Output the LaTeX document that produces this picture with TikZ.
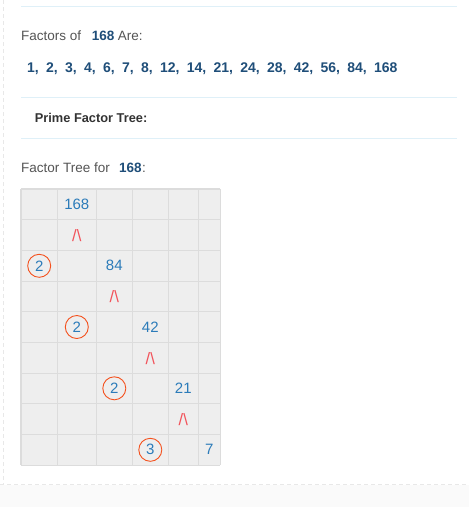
\documentclass[tikz,border=0pt]{standalone}
\usepackage{fontspec}
\setmainfont{Liberation Sans}
\definecolor{rulecol}{HTML}{DFF0F8}
\definecolor{txt}{HTML}{555555}
\definecolor{dblue}{HTML}{1F4E79}
\definecolor{gblue}{HTML}{2B7BB9}
\definecolor{cellfill}{HTML}{EEEEEE}
\definecolor{cellline}{HTML}{DCDCDC}
\definecolor{circ}{HTML}{F4511E}
\definecolor{caret}{HTML}{F2525A}
\definecolor{dashcol}{HTML}{E8E8E8}
\definecolor{foot}{HTML}{FAFAFA}
\tikzset{
  plain/.style={anchor=base west, inner sep=0pt, text=txt, font=\fontsize{13.5}{16}\selectfont},
  num/.style={inner sep=0pt, text=gblue, font=\fontsize{15}{18}\selectfont},
  fork/.style={inner sep=0pt, text=caret, font=\fontsize{16.5}{18}\selectfont},
  prime/.style={circle, draw=circ, line width=0.9pt, minimum size=23pt, inner sep=0pt, text=gblue, font=\fontsize{15}{18}\selectfont},
}
\begin{document}
\begin{tikzpicture}[x=1pt,y=-1pt]
\useasboundingbox (0,0) rectangle (469,507);
\fill[white] (0,0) rectangle (469,507);
\fill[foot] (0,485) rectangle (469,507);
\draw[dashcol, dash pattern=on 4pt off 3pt] (3,0) -- (3,484);
\draw[dashcol, dash pattern=on 4pt off 3pt] (0,484.5) -- (469,484.5);
\draw[rulecol, line width=1pt] (21,6) -- (457,6);
\draw[rulecol, line width=1pt] (21,97.5) -- (457,97.5);
\draw[rulecol, line width=1pt] (21,138) -- (457,138);
% headings
\node[plain] (h1) at (21,40.7) {Factors of};
\node[plain, text=dblue, font=\fontsize{13.5}{16}\selectfont\bfseries] (h1n) at (91.7,40.7) {168};
\node[plain] (h1b) at (117.7,40.7) {Are:};
\node[plain, text=dblue, font=\fontsize{14}{16}\selectfont\bfseries] (list) at (27,72.7)
 {1,\hspace{7.3pt}2,\hspace{7.3pt}3,\hspace{7.3pt}4,\hspace{7.3pt}6,\hspace{7.3pt}7,\hspace{7.3pt}8,\hspace{7.3pt}12,\hspace{7.3pt}14,\hspace{7.3pt}21,\hspace{7.3pt}24,\hspace{7.3pt}28,\hspace{7.3pt}42,\hspace{7.3pt}56,\hspace{7.3pt}84,\hspace{7.3pt}168};
\node[plain, text=black!80, font=\fontsize{12.8}{16}\selectfont\bfseries] (pft) at (34.7,122.3) {Prime Factor Tree:};
\node[plain] (ft) at (21,172.7) {Factor Tree for};
\node[plain, text=dblue, font=\fontsize{13.5}{16}\selectfont\bfseries] (ftn) at (119,172.7) {168};
\node[plain] (ftc) at (142,172.7) {:};
% grid
\fill[cellfill] (21,189) rectangle (220.3,465.3);
\foreach \x in {21,57.3,96.3,132.3,168.3,198.3,220.3}
  \draw[cellline, line width=1.2pt] (\x,189) -- (\x,465.3);
\foreach \y in {189,219.5,250.3,281.3,311.7,342.3,373.3,403.3,434.3,465.3}
  \draw[cellline, line width=1.2pt] (21,\y) -- (220.3,\y);
% contents
\node[num] (n168) at (76.8,204.2) {168};
\node[fork] (f1) at (76.8,235.5) {/\textbackslash};
\node[prime] (p1) at (39.2,265.8) {2};
\node[num] (n84) at (114.3,265.8) {84};
\node[fork] (f2) at (114.3,297) {/\textbackslash};
\node[prime] (p2) at (76.8,327) {2};
\node[num] (n42) at (150.3,327) {42};
\node[fork] (f3) at (150.3,358.5) {/\textbackslash};
\node[prime] (p3) at (114.3,388.3) {2};
\node[num] (n21) at (183.3,388.3) {21};
\node[fork] (f4) at (183.3,419.5) {/\textbackslash};
\node[prime] (p4) at (150.3,449.8) {3};
\node[num] (n7) at (209.3,449.8) {7};
\end{tikzpicture}
\end{document}
